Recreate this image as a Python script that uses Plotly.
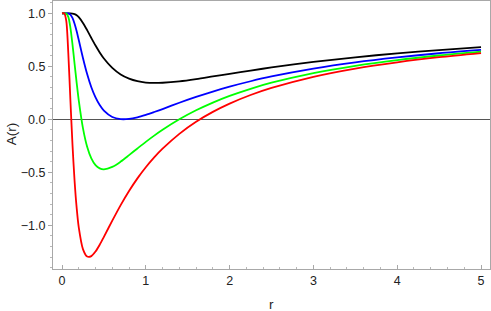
import plotly.graph_objects as go

r = [0, 0.025, 0.05, 0.075, 0.1, 0.125, 0.15, 0.175, 0.2, 0.25, 0.3, 0.35, 0.4, 0.45, 0.5,
     0.6, 0.7, 0.8, 0.9, 1.0, 1.1, 1.2, 1.4, 1.6, 1.8, 2.0, 2.25, 2.5, 3.0, 3.5, 4.0, 4.5, 5.0]

A_black = [1.0, 1.0, 1.0, 1.0, 1.0, 0.998, 0.992, 0.981, 0.963, 0.909, 0.841, 0.767, 0.696, 0.631, 0.574,
           0.485, 0.423, 0.384, 0.360, 0.347, 0.343, 0.345, 0.358, 0.379, 0.404, 0.429, 0.460, 0.489, 0.541, 0.585, 0.622, 0.653, 0.680]
A_blue = [1.0, 1.0, 1.0, 0.999, 0.987, 0.956, 0.901, 0.830, 0.748, 0.579, 0.427, 0.302, 0.206, 0.134, 0.082,
          0.022, 0.002, 0.004, 0.019, 0.042, 0.069, 0.097, 0.156, 0.211, 0.262, 0.308, 0.359, 0.404, 0.478, 0.537, 0.584, 0.623, 0.655]
A_green = [1.0, 1.0, 0.998, 0.966, 0.865, 0.707, 0.524, 0.344, 0.179, -0.083, -0.259, -0.369, -0.433, -0.463, -0.472,
           -0.449, -0.399, -0.338, -0.275, -0.213, -0.154, -0.099, 0.000, 0.085, 0.158, 0.221, 0.288, 0.345, 0.436, 0.505, 0.559, 0.602, 0.638]
A_red = [1.0, 1.0, 0.934, 0.626, 0.185, -0.237, -0.579, -0.836, -1.019, -1.224, -1.294, -1.290, -1.247, -1.183, -1.109,
         -0.956, -0.809, -0.676, -0.557, -0.452, -0.359, -0.277, -0.137, -0.023, 0.070, 0.148, 0.229, 0.296, 0.401, 0.479, 0.538, 0.586, 0.625]

series = [("black", A_black, "#000000"), ("blue", A_blue, "#0000ff"),
          ("green", A_green, "#00ff00"), ("red", A_red, "#ff0000")]

x_ticks = [0, 1, 2, 3, 4, 5]
y_ticks = [-1.0, -0.5, 0.0, 0.5, 1.0]

fig = go.Figure()
for name, vals, col in series:
    fig.add_trace(go.Scatter(x=r, y=vals, mode="lines", name=name,
                             line=dict(color=col, width=1.8, shape="spline", smoothing=0.8),
                             showlegend=False, hoverinfo="skip"))

font = dict(family="Liberation Sans, Arial, sans-serif", size=12.5, color="#222222")
fig.update_layout(
    width=491, height=311,
    margin=dict(l=53, r=1, t=1, b=42),
    paper_bgcolor="white", plot_bgcolor="white",
    font=font,
    xaxis=dict(range=[-0.1074, 5.107], tickvals=x_ticks, ticktext=[str(v) for v in x_ticks],
               showgrid=False, zeroline=False, showline=True, mirror=True,
               linecolor="#a8a8a8", linewidth=1,
               ticks="inside", ticklen=4, tickcolor="#a8a8a8", tickwidth=1,
               minor=dict(dtick=0.2, tick0=0, ticks="inside", ticklen=2, tickcolor="#b8b8b8"),
               tickfont=font, fixedrange=True),
    yaxis=dict(range=[-1.412, 1.116], tickvals=y_ticks, ticktext=["\u22121.0", "\u22120.5", "0.0", "0.5", "1.0"],
               showgrid=False, zeroline=True, zerolinecolor="#555555", zerolinewidth=1,
               showline=True, mirror=True, linecolor="#a8a8a8", linewidth=1,
               ticks="outside", ticklen=4, tickcolor="#a8a8a8", tickwidth=1,
               minor=dict(dtick=0.1, tick0=0, ticks="outside", ticklen=2, tickcolor="#b8b8b8"),
               tickfont=font, fixedrange=True),
    annotations=[
        dict(text="A(r)", xref="paper", yref="paper", x=-0.093, y=0.504, showarrow=False,
             textangle=-90, font=dict(family="Liberation Sans, Arial, sans-serif", size=13.5, color="#222222"),
             xanchor="center", yanchor="middle"),
        dict(text="r", xref="paper", yref="paper", x=0.499, y=-0.133, showarrow=False,
             font=dict(family="Liberation Sans, Arial, sans-serif", size=13.5, color="#222222"),
             xanchor="center", yanchor="middle"),
    ],
)

fig.write_html("out.html", config={"displayModeBar": False},
               post_script="document.body.style.margin='0';document.body.style.overflow='hidden';")
